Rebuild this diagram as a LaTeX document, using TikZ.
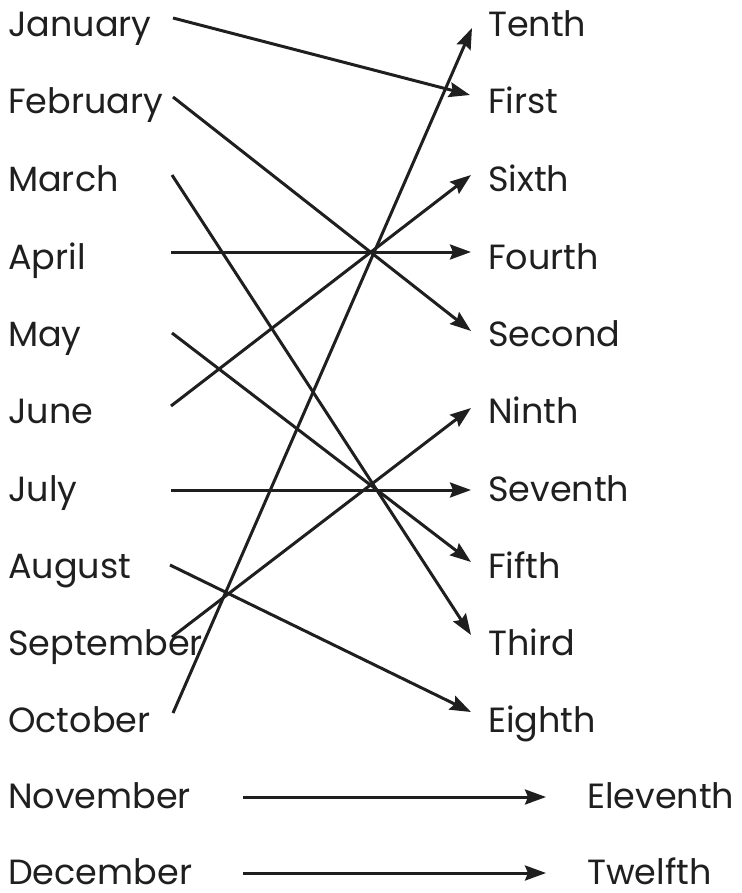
\documentclass[tikz,border=0pt]{standalone}
\usepackage{fontspec}
\setmainfont{Poppins}
\usetikzlibrary{arrows.meta}
\begin{document}
\begin{tikzpicture}
  [x=1pt,y=-1pt,
   every node/.style={anchor=base west,inner sep=0pt,text depth=0pt,font=\fontsize{35}{35}\selectfont,text=black!88},
   link/.style={line width=3pt,draw=black!88,-{Stealth[length=21pt,width=15pt,inset=3pt]}}]
  \useasboundingbox (0,0) rectangle (741,893);

  % Meses (columna izquierda)
  \node (jan) at (8,37) {January};
  \node (feb) at (8,114) {February};
  \node (mar) at (8,192) {March};
  \node (apr) at (8,269) {April};
  \node (may) at (8,346) {May};
  \node (jun) at (8,423) {June};
  \node (jul) at (8,501) {July};
  \node (aug) at (8,578) {August};
  \node (sep) at (8,655) {September};
  \node (oct) at (8,732) {October};
  \node (nov) at (8,808) {November};
  \node (dec) at (8,884) {December};

  % Ordinales (columna derecha)
  \node (tenth) at (488,37) {Tenth};
  \node (first) at (488,114) {First};
  \node (sixth) at (488,192) {Sixth};
  \node (fourth) at (488,269) {Fourth};
  \node (second) at (488,346) {Second};
  \node (ninth) at (488,423) {Ninth};
  \node (seventh) at (488,501) {Seventh};
  \node (fifth) at (488,578) {Fifth};
  \node (third) at (488,655) {Third};
  \node (eighth) at (488,732) {Eighth};
  \node (eleventh) at (587,808) {Eleventh};
  \node (twelfth) at (587,884) {Twelfth};

  % Extremos de las flechas
  \coordinate (jan-out) at (173,18);
  \coordinate (feb-out) at (173,97);
  \coordinate (mar-out) at (172,175);
  \coordinate (apr-out) at (171,252);
  \coordinate (may-out) at (172,333);
  \coordinate (jun-out) at (171,406);
  \coordinate (jul-out) at (171,490);
  \coordinate (aug-out) at (170,565);
  \coordinate (sep-out) at (172,637);
  \coordinate (oct-out) at (173,713);
  \coordinate (nov-out) at (243,797);
  \coordinate (dec-out) at (243,873);

  \coordinate (tenth-in) at (472,28);
  \coordinate (first-in) at (470,95);
  \coordinate (sixth-in) at (471,175);
  \coordinate (fourth-in) at (471,252);
  \coordinate (second-in) at (471,331);
  \coordinate (ninth-in) at (471,408);
  \coordinate (seventh-in) at (471,490);
  \coordinate (fifth-in) at (471,562);
  \coordinate (third-in) at (471,635);
  \coordinate (eighth-in) at (471,712);
  \coordinate (eleventh-in) at (546,797);
  \coordinate (twelfth-in) at (546,873);

  % Flechas
  \draw[link] (jan-out) -- (first-in);
  \draw[link] (feb-out) -- (second-in);
  \draw[link] (mar-out) -- (third-in);
  \draw[link] (apr-out) -- (fourth-in);
  \draw[link] (may-out) -- (fifth-in);
  \draw[link] (jun-out) -- (sixth-in);
  \draw[link] (jul-out) -- (seventh-in);
  \draw[link] (aug-out) -- (eighth-in);
  \draw[link] (sep-out) -- (ninth-in);
  \draw[link] (oct-out) -- (tenth-in);
  \draw[link] (nov-out) -- (eleventh-in);
  \draw[link] (dec-out) -- (twelfth-in);
\end{tikzpicture}
\end{document}
